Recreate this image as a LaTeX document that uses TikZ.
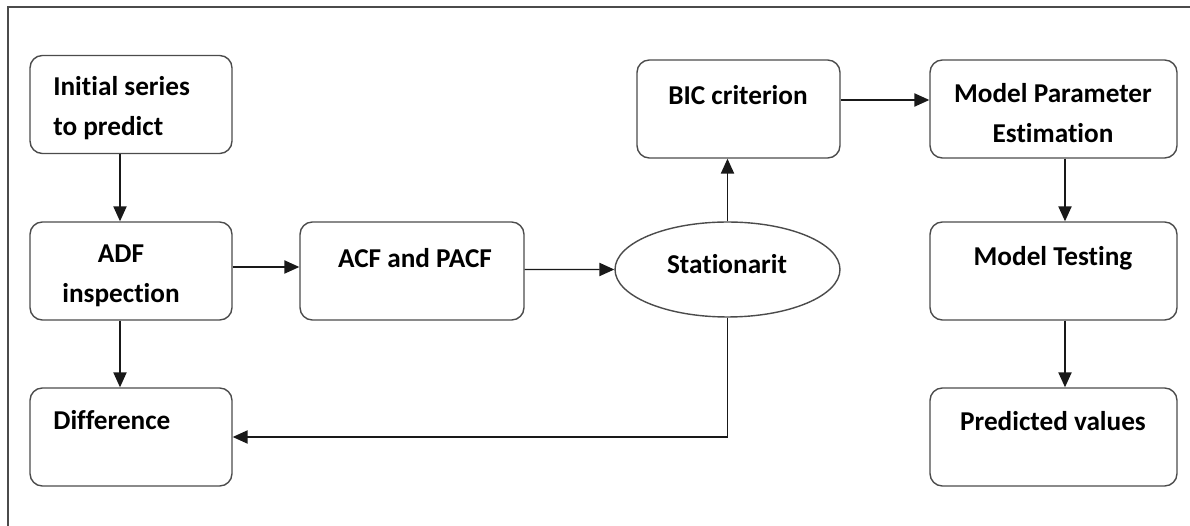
\documentclass[tikz,border=0pt]{standalone}
\usepackage{fontspec}
\setmainfont{Carlito}[Ligatures={NoCommon}]
\usetikzlibrary{arrows.meta,shapes.geometric}
\definecolor{boxline}{RGB}{75,75,75}
\definecolor{arrline}{RGB}{25,25,25}
\tikzset{
  box/.style  ={draw=boxline, line width=0.8pt, rounded corners=7pt, minimum width=4.04cm, minimum height=1.96cm, inner sep=0pt},
  oval/.style ={draw=boxline, line width=0.8pt, ellipse, minimum width=4.5cm, minimum height=1.9cm, inner sep=0pt},
  lab/.style  ={font=\fontsize{15.5}{22.7}\selectfont\bfseries, align=center, inner sep=0pt},
  arr/.style  ={draw=arrline, line width=0.8pt, -{Triangle[length=8.5pt,width=7.5pt]}},
  frame/.style={draw=boxline, line width=0.8pt},
}
\begin{document}
\begin{tikzpicture}[x=0.02cm,y=-0.02cm]
  \useasboundingbox (0,0) rectangle (1190,526);
  \draw[frame] (8,526) -- (8,7) -- (1190,7);
  % boxes
  \node[box] (init) at (131,104.5) {};
  \node[box] (adf)  at (131,271) {};
  \node[box] (diff) at (131,437) {};
  \node[box,minimum width=4.48cm] (acf) at (412,271) {};
  \node[oval] (stat) at (727.5,269.5) {};
  \node[box,minimum width=4.06cm] (bic) at (738.5,109) {};
  \node[box,minimum width=4.94cm] (mpe) at (1053.5,109) {};
  \node[box,minimum width=4.94cm] (test) at (1053.5,271) {};
  \node[box,minimum width=4.94cm] (pred) at (1053.5,437) {};
  % texts
  \node[lab,align=left,anchor=west] (tinit) at (53,108) {Initial series\\to predict};
  \node[lab] (tadf)  at (121,276) {ADF\\inspection};
  \node[lab,anchor=west] (tdiff) at (53,420) {Difference};
  \node[lab] (tacf)  at (415,258) {ACF and PACF};
  \node[lab] (tstat) at (727,264) {Stationarit};
  \node[lab] (tbic)  at (738,95) {BIC criterion};
  \node[lab] (tmpe)  at (1053,113) {Model Parameter\\Estimation};
  \node[lab] (ttest) at (1053,258) {Model Testing};
  \node[lab] (tpred) at (1053,421) {Predicted values};
  % arrows
  \draw[arr] ([xshift=-0.22cm]init.south) -- ([xshift=-0.22cm]adf.north);
  \draw[arr] ([xshift=-0.22cm]adf.south) -- ([xshift=-0.22cm]diff.north);
  \draw[arr] ([yshift=0.08cm]adf.east) -- ([yshift=0.08cm]acf.west);
  \draw[arr] ([yshift=0.03cm]acf.east) -- (stat.west);
  \draw[arr] (stat.north) -- (stat.north |- bic.south);
  \draw[arr] ([yshift=0.18cm]bic.east) -- ([yshift=0.18cm]mpe.west);
  \draw[arr] ([xshift=0.23cm]mpe.south) -- ([xshift=0.23cm]test.north);
  \draw[arr] ([xshift=0.23cm]test.south) -- ([xshift=0.23cm]pred.north);
  \draw[arr] (stat.south) -- (stat.south |- diff.east) -- (diff.east);
\end{tikzpicture}
\end{document}
